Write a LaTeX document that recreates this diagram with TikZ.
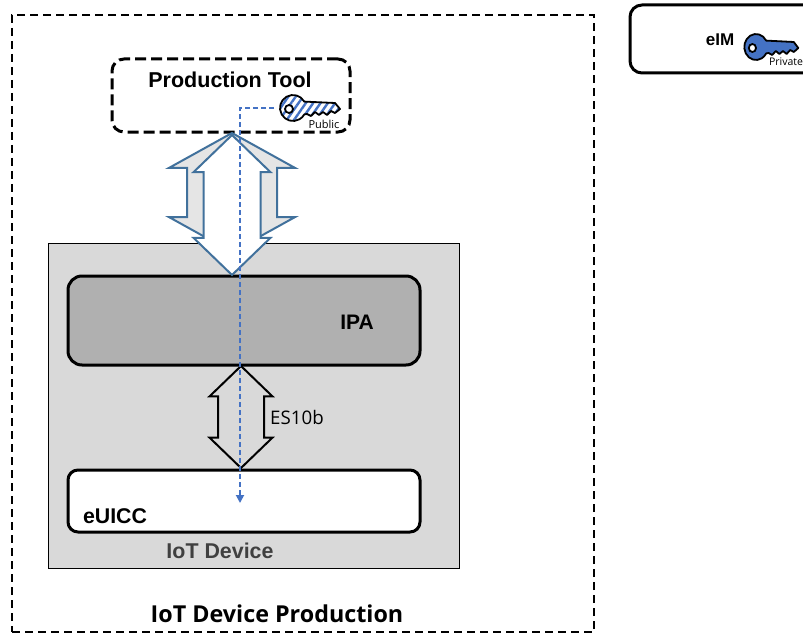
\documentclass[tikz,border=0pt]{standalone}
\usepackage{fontspec}
\setmainfont{Liberation Sans}
\newfontfamily\opensans{Open Sans}
\usetikzlibrary{shapes.arrows,patterns.meta,arrows.meta}
\definecolor{keyblue}{HTML}{4472C4}
\definecolor{arrowblue}{HTML}{41719C}
\tikzset{
  box/.style={draw=black, rectangle, rounded corners=#1, line width=3pt, inner sep=0pt},
  box/.default=12pt,
  blockarrow/.style={double arrow, rotate=90, inner xsep=0pt, line width=2pt, double arrow tip angle=92},
  keyicon/.pic={
    \path[draw=black, line width=1.8pt, line join=round, pic actions]
      (11.3,-6.4) arc[start angle=-29.5, end angle=-330.5, radius=13]
      -- (14,6) -- (18,8) -- (22,4) -- (26,7) -- (30,4) -- (34,7) -- (38,3) -- (42,5) -- (47,1) -- (42,-5) -- cycle;
    \draw[line width=1.8pt, fill=white] (-4,1) circle[radius=4];
  }
}
\begin{document}
\begin{tikzpicture}[x=1pt, y=-1pt]
    \clip (0,0) rectangle (803,634);

    % production area
    \node (production) at (303,323.5) [draw, rectangle, dash pattern=on 8pt off 5pt, line width=1.5pt, minimum width=582pt, minimum height=617pt, inner sep=0pt] {};
    \node (productionlabel) at (277,614) {\opensans\fontsize{23.3}{26}\selectfont\bfseries IoT Device Production};

    % device and its boxes
    \node (device) at (253.5,405.5) [draw=black, rectangle, fill=black!15, line width=1pt, minimum width=411pt, minimum height=325pt, inner sep=0pt] {};
    \node (ipa) at (244,320.5) [box=14pt, fill=black!31, minimum width=352pt, minimum height=89pt] {};
    \node (euicc) at (244,501) [box=10pt, fill=white, minimum width=352pt, minimum height=62pt] {};
    \node (ipalabel) at (357,322) {\fontsize{21}{24}\selectfont\bfseries IPA};
    \node (euicclabel) at (115,516) {\fontsize{21.3}{24}\selectfont\bfseries eUICC};
    \node (devicelabel) at (220,551) [text=black!75] {\fontsize{21.4}{24}\selectfont\bfseries IoT Device};

    % tool box
    \node (tool) at (231,95.5) [box, dash pattern=on 11pt off 5pt, minimum width=238pt, minimum height=73pt] {};
    \node (toollabel) at (230,80) {\fontsize{21.5}{24}\selectfont\bfseries Production Tool};

    % eIM box
    \node (eim) at (725,39) [box, fill=white, minimum width=190pt, minimum height=68pt] {};
    \node (eimlabel) at (720,40) {\fontsize{17}{20}\selectfont\bfseries eIM};

    % block arrows
    \node (outerarrow) at (232,192.5) [blockarrow, draw=arrowblue, fill=black!10, inner ysep=44pt, minimum height=119pt, double arrow head extend=18pt, double arrow tip angle=122] {};
    \node (innerarrow) at (232,205) [blockarrow, draw=arrowblue, fill=white, inner ysep=27.5pt, minimum height=140pt, double arrow head extend=10pt] {};
    \node (es) at (241,417) [blockarrow, draw=black, inner ysep=22pt, minimum height=102pt, double arrow head extend=8.5pt] {};
    \node (eslabel) at (297,417) {\opensans\fontsize{18.7}{22}\selectfont ES10b};

    % keys
    \pic (publickey) at (293,108) [pattern={Lines[angle=55,distance=6pt,line width=2.4pt]}, pattern color=keyblue] {keyicon};
    \node (publiclabel) at (324,124) {\opensans\fontsize{11}{13}\selectfont Public};
    \pic (privatekey) at (756,47) [xscale=.9, fill=keyblue] {keyicon};
    \node (privatelabel) at (786,62) {\opensans\fontsize{10.5}{12}\selectfont Private};

    % signing path
    \coordinate (keyend) at (274,108);
    \coordinate (bend) at (240,108);
    \coordinate (pathend) at (240,503);
    \draw[keyblue, dash pattern=on 5pt off 3pt, line width=1.8pt, -{Triangle[length=8pt,width=8pt]}] (keyend) -- (bend) -- (pathend);
\end{tikzpicture}
\end{document}
